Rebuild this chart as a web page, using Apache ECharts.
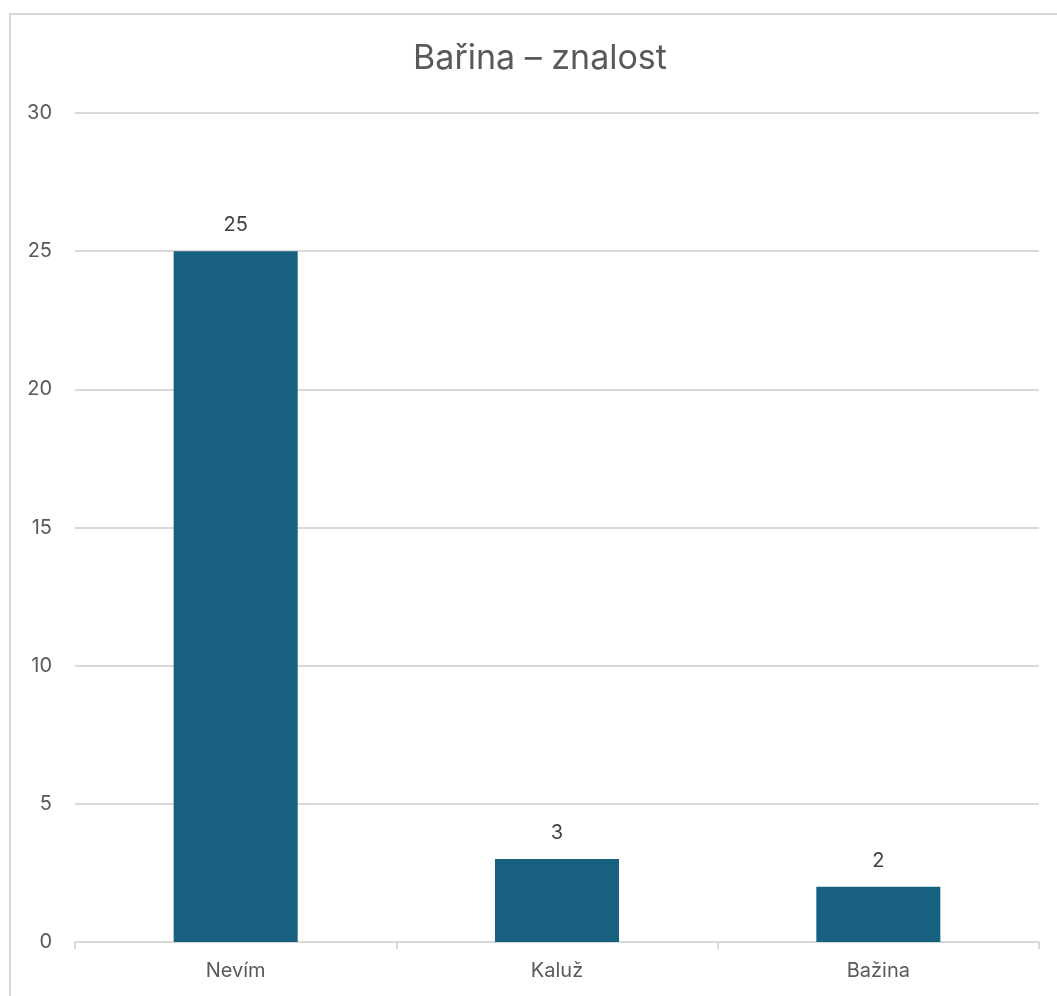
<!DOCTYPE html>
<html>
<head>
<meta charset="utf-8">
<script src="https://cdn.jsdelivr.net/npm/echarts@6/dist/echarts.min.js"></script>
<style>
html,body{margin:0;padding:0;background:#fff;}
#frame{position:absolute;left:9px;top:13px;width:1100px;height:1100px;border:2px solid #d9d9d9;box-sizing:border-box;}
#c{position:absolute;left:0;top:0;width:1057px;height:996px;}
</style>
</head>
<body>
<div id="frame"></div>
<div id="c"></div>
<script>
const titleText = 'Bařina – znalost';
const categories = ['Nevím', 'Kaluž', 'Bažina'];
const values = [25, 3, 2];
const yTicks = [0, 5, 10, 15, 20, 25, 30];

const chart = echarts.init(document.getElementById('c'), null, {renderer: 'canvas'});
chart.setOption({
  backgroundColor: 'transparent',
  animation: false,
  title: {
    text: titleText,
    left: 535, top: 37, textAlign: 'center',
    textStyle: {fontFamily: 'Inter, Roboto, sans-serif', fontSize: 34, fontWeight: 'normal', color: '#595959'}
  },
  grid: {left: 75, right: 18, top: 113, bottom: 54, containLabel: false},
  xAxis: {
    type: 'category',
    data: categories,
    axisLine: {lineStyle: {color: '#d9d9d9', width: 2}},
    axisTick: {show: true, length: 7, lineStyle: {color: '#d9d9d9', width: 2}},
    axisLabel: {fontFamily: 'Inter, Roboto, sans-serif', fontSize: 20, color: '#595959', margin: 19}
  },
  yAxis: {
    type: 'value',
    min: yTicks[0], max: yTicks[yTicks.length - 1], interval: 5,
    axisLine: {show: false},
    axisTick: {show: false},
    splitLine: {lineStyle: {color: '#d9d9d9', width: 2}},
    axisLabel: {fontFamily: 'Inter, Roboto, sans-serif', fontSize: 20, color: '#595959', margin: 23}
  },
  series: [{
    type: 'bar',
    data: values,
    barWidth: '38.6%',
    itemStyle: {color: '#17607f'},
    label: {show: true, position: 'top', distance: 16, fontFamily: 'Inter, Roboto, sans-serif', fontSize: 20, color: '#404040'}
  }]
});
</script>
</body>
</html>
